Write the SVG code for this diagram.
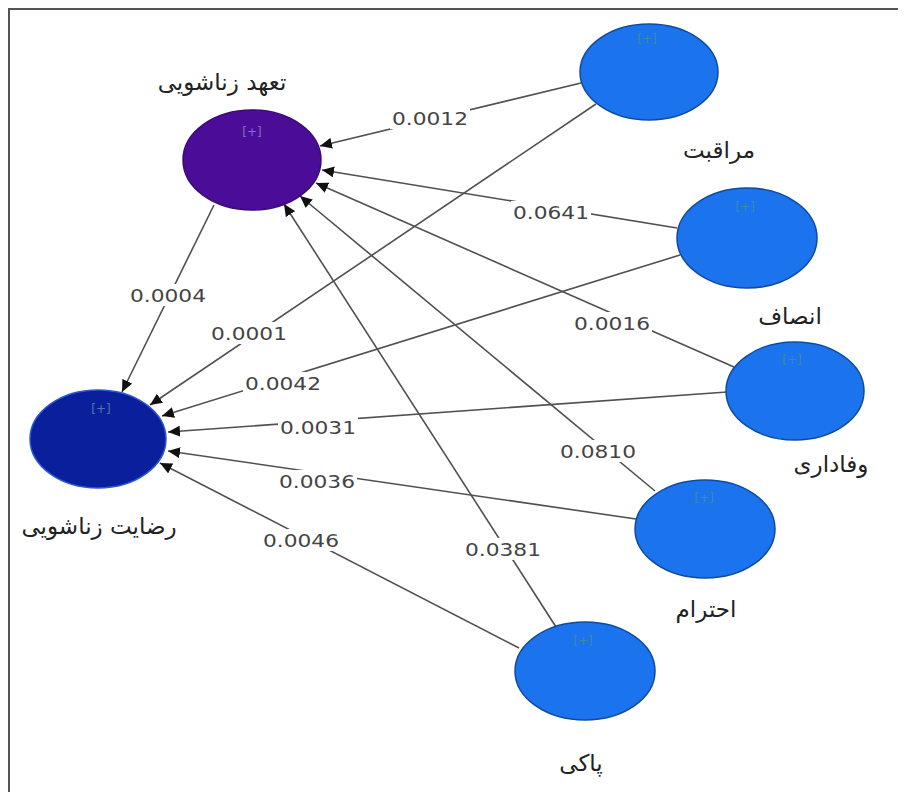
<svg xmlns="http://www.w3.org/2000/svg" width="904" height="792" viewBox="0 0 904 792">
<defs>
<marker id="ah" markerWidth="13" markerHeight="11" refX="12" refY="5.5" orient="auto" markerUnits="userSpaceOnUse">
<path d="M0,0 L12,5.5 L0,11 Z" fill="#111"/>
</marker>
<style>
.edge{stroke:#505050;stroke-width:1.6;fill:none;marker-end:url(#ah)}
.lbg{fill:#fff}
.lbl{font-family:"DejaVu Sans",Verdana,sans-serif;font-size:18px;fill:#444;text-anchor:middle;dominant-baseline:central}
.blue{fill:#1b74ee;stroke:#0f4aa0;stroke-width:1.5}
.plus{font-family:"DejaVu Sans",sans-serif;font-size:12px;text-anchor:middle;fill:#3f8a9c}
.name{font-family:"DejaVu Sans","Noto Sans",sans-serif;font-size:23px;fill:#222;text-anchor:middle}
</style>
</defs>
<rect x="0" y="0" width="904" height="792" fill="#fff"/>
<path d="M9,792 L9,9 L898,9" fill="none" stroke="#555" stroke-width="2"/>

<g id="connectors">
<line class="edge" x1="581" y1="83" x2="320" y2="146"/>
<line class="edge" x1="677" y1="228" x2="322" y2="170"/>
<line class="edge" x1="734" y1="367" x2="316" y2="183"/>
<line class="edge" x1="655" y1="491" x2="300" y2="196"/>
<line class="edge" x1="556" y1="627" x2="284" y2="204"/>
<line class="edge" x1="214" y1="205" x2="122" y2="392"/>
<line class="edge" x1="596" y1="104" x2="150" y2="405"/>
<line class="edge" x1="680" y1="255" x2="162" y2="416"/>
<line class="edge" x1="727" y1="392" x2="168" y2="432"/>
<line class="edge" x1="636" y1="519" x2="168" y2="451"/>
<line class="edge" x1="519" y1="648" x2="160" y2="463"/>

<rect class="lbg" x="390" y="107" width="80" height="22"/>
<text class="lbl" x="430" y="118" textLength="76" lengthAdjust="spacingAndGlyphs">0.0012</text>
<rect class="lbg" x="511" y="201" width="80" height="22"/>
<text class="lbl" x="551" y="212" textLength="76" lengthAdjust="spacingAndGlyphs">0.0641</text>
<rect class="lbg" x="572" y="312" width="80" height="22"/>
<text class="lbl" x="612" y="323" textLength="76" lengthAdjust="spacingAndGlyphs">0.0016</text>
<rect class="lbg" x="558" y="440" width="80" height="22"/>
<text class="lbl" x="598" y="451" textLength="76" lengthAdjust="spacingAndGlyphs">0.0810</text>
<rect class="lbg" x="463" y="538" width="80" height="22"/>
<text class="lbl" x="503" y="549" textLength="76" lengthAdjust="spacingAndGlyphs">0.0381</text>
<rect class="lbg" x="128" y="284" width="80" height="22"/>
<text class="lbl" x="168" y="295" textLength="76" lengthAdjust="spacingAndGlyphs">0.0004</text>
<rect class="lbg" x="209" y="322" width="80" height="22"/>
<text class="lbl" x="249" y="333" textLength="76" lengthAdjust="spacingAndGlyphs">0.0001</text>
<rect class="lbg" x="243" y="372" width="80" height="22"/>
<text class="lbl" x="283" y="383" textLength="76" lengthAdjust="spacingAndGlyphs">0.0042</text>
<rect class="lbg" x="278" y="416" width="80" height="22"/>
<text class="lbl" x="318" y="427" textLength="76" lengthAdjust="spacingAndGlyphs">0.0031</text>
<rect class="lbg" x="277" y="470" width="80" height="22"/>
<text class="lbl" x="317" y="481" textLength="76" lengthAdjust="spacingAndGlyphs">0.0036</text>
<rect class="lbg" x="261" y="529" width="80" height="22"/>
<text class="lbl" x="301" y="540" textLength="76" lengthAdjust="spacingAndGlyphs">0.0046</text>
</g>

<g id="commitment">
<ellipse cx="252" cy="160" rx="69" ry="50" fill="#4b0c98" stroke="#3a0a78" stroke-width="1.5"/>
<text class="plus" x="252" y="136" style="fill:#7a78a8">[+]</text>
<text class="name" x="222" y="90">تعهد زناشویی</text>
</g>

<g id="satisfaction">
<ellipse cx="98" cy="439" rx="68" ry="49" fill="#0a1f9c" stroke="#2a58d0" stroke-width="1.5"/>
<text class="plus" x="101" y="413" style="fill:#4a7ab0">[+]</text>
<text class="name" x="99" y="534">رضایت زناشویی</text>
</g>

<g id="care">
<ellipse class="blue" cx="649" cy="72" rx="69" ry="48"/>
<text class="plus" x="647" y="43">[+]</text>
<text class="name" x="719" y="158">مراقبت</text>
</g>

<g id="fairness">
<ellipse class="blue" cx="747" cy="238" rx="70" ry="50"/>
<text class="plus" x="745" y="211">[+]</text>
<text class="name" x="790" y="324">انصاف</text>
</g>

<g id="loyalty">
<ellipse class="blue" cx="795" cy="391" rx="69" ry="49"/>
<text class="plus" x="792" y="364">[+]</text>
<text class="name" x="831" y="472">وفاداری</text>
</g>

<g id="respect">
<ellipse class="blue" cx="705" cy="529" rx="70" ry="49"/>
<text class="plus" x="704" y="502">[+]</text>
<text class="name" x="706" y="617">احترام</text>
</g>

<g id="purity">
<ellipse class="blue" cx="585" cy="671" rx="70" ry="49"/>
<text class="plus" x="583" y="645">[+]</text>
<text class="name" x="581" y="771">پاکی</text>
</g>
</svg>
